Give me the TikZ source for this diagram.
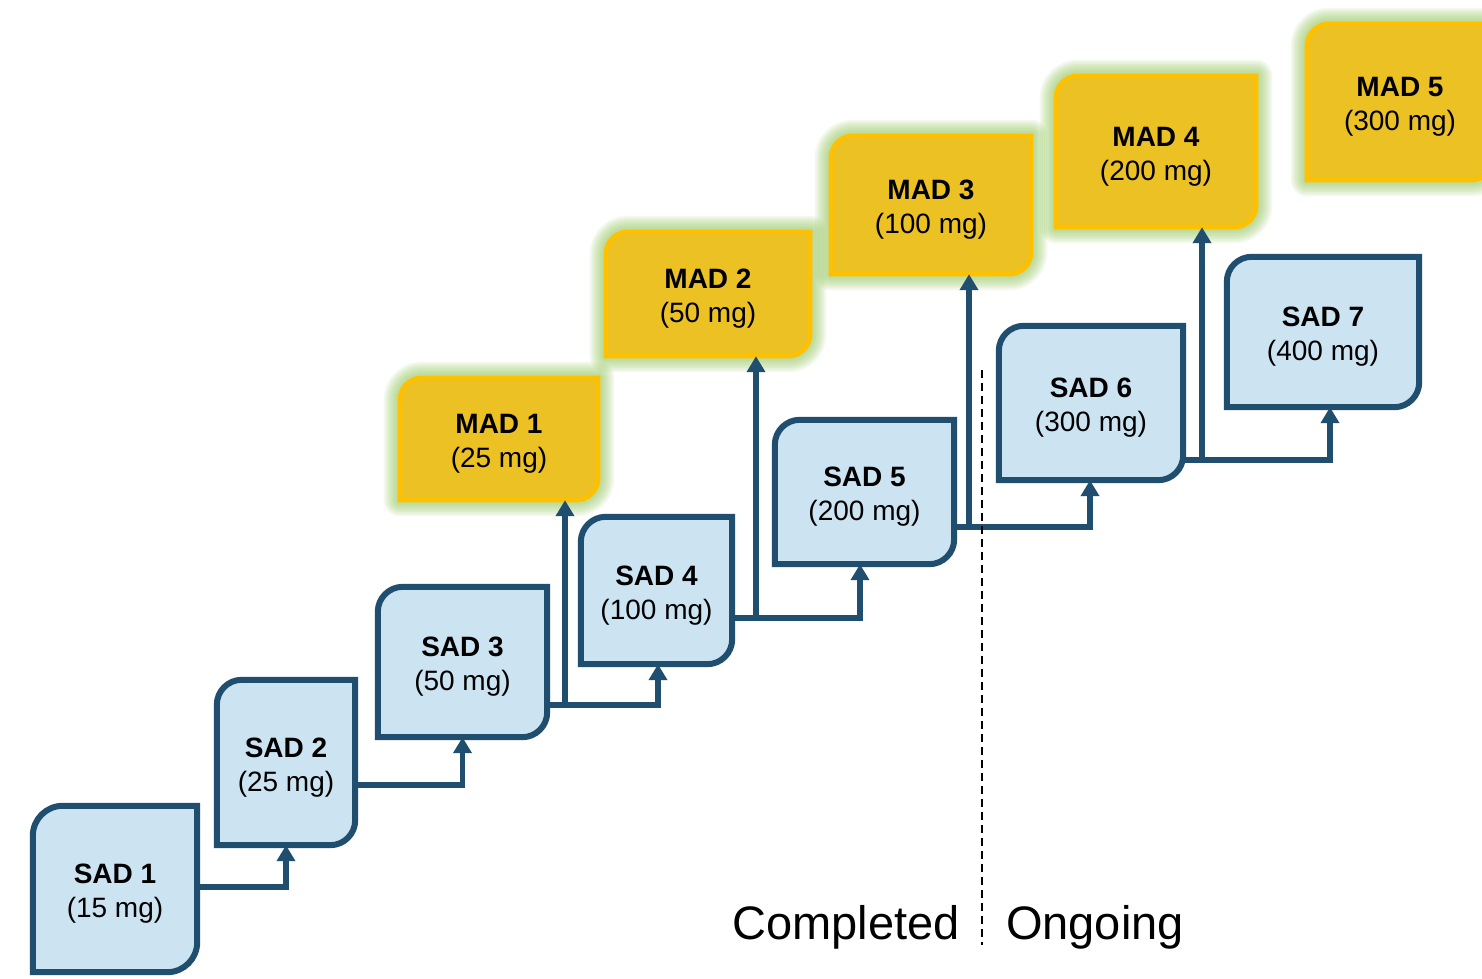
\documentclass[tikz,border=0pt]{standalone}
\usepackage{fontspec}
\setmainfont{Liberation Sans}
\usetikzlibrary{calc,arrows.meta}
\definecolor{sadfill}{RGB}{204,227,242}
\definecolor{sadline}{RGB}{31,78,111}
\definecolor{madfill}{RGB}{235,193,35}
\definecolor{madline}{RGB}{255,192,0}
\definecolor{glowc}{RGB}{150,200,95}
\pgfdeclarelayer{bg}
\pgfdeclarelayer{glowlayer}
\pgfdeclarelayer{paper}
\pgfsetlayers{paper,glowlayer,bg,main}
% shape with rounded top-left and bottom-right corners
\newcommand\dualround[3]{%
  \path[#1] (#2.south west) -- ($(#2.north west)+(0,#3)$)
    .. controls +(0,-0.552*#3) and +(-0.552*#3,0) .. ($(#2.north west)+(#3,0)$)
    -- (#2.north east) -- ($(#2.south east)+(0,-#3)$)
    .. controls +(0,0.552*#3) and +(0.552*#3,0) .. ($(#2.south east)+(-#3,0)$)
    -- cycle;}
\newcommand\madglow[2]{%
  \begin{pgfonlayer}{glowlayer}
  \foreach \w in {32,28,24,20,16,12,8}{%
    \dualround{draw=glowc,line width=\w pt,opacity=0.12,line join=round}{#1}{#2}}
  \end{pgfonlayer}
  \begin{pgfonlayer}{bg}
  \dualround{fill=madfill,draw=madline,line width=4.5pt}{#1}{#2}
  \end{pgfonlayer}}
\newcommand\sadshape[2]{%
  \begin{pgfonlayer}{glowlayer}
  \dualround{fill=black,opacity=0.05,xshift=5pt,yshift=-4pt}{#1}{#2}
  \dualround{fill=black,opacity=0.06,xshift=3pt,yshift=-2pt}{#1}{#2}
  \end{pgfonlayer}
  \begin{pgfonlayer}{bg}
  \dualround{fill=sadfill,draw=sadline,line width=6pt}{#1}{#2}
  \end{pgfonlayer}}
\newcommand\st{\rule{0pt}{29pt}}
\begin{document}
\begin{tikzpicture}[x=1pt,y=-1pt,
  box/.style={inner sep=0pt,align=center,font=\fontsize{28}{34}\selectfont,text=black},
  conn/.style={draw=sadline,line width=5.5pt,-{Triangle[width=18pt,length=16pt]}},
  lbl/.style={font=\fontsize{47}{56}\selectfont,text=black}]
\useasboundingbox (0,0) rectangle (1482,979);
\begin{pgfonlayer}{paper}
\fill[white] (0,0) rectangle (1482,979);
\end{pgfonlayer}

% SAD nodes
\node[box,minimum width=164pt,minimum height=166pt] (s1) at (115,889) {\st\textbf{SAD 1}\\(15 mg)};
\node[box,minimum width=138pt,minimum height=165pt] (s2) at (286,762.5) {\st\textbf{SAD 2}\\(25 mg)};
\node[box,minimum width=169pt,minimum height=150pt] (s3) at (462.5,662) {\st\textbf{SAD 3}\\(50 mg)};
\node[box,minimum width=151pt,minimum height=147pt] (s4) at (656.5,590.5) {\st\textbf{SAD 4}\\(100 mg)};
\node[box,minimum width=179pt,minimum height=144pt] (s5) at (864.5,492) {\st\textbf{SAD 5}\\(200 mg)};
\node[box,minimum width=184pt,minimum height=154pt] (s6) at (1091,403) {\st\textbf{SAD 6}\\(300 mg)};
\node[box,minimum width=192pt,minimum height=150pt] (s7) at (1323,332) {\st\textbf{SAD 7}\\(400 mg)};

% MAD nodes
\node[box,minimum width=198pt,minimum height=122pt] (m1) at (499,439) {\st\textbf{MAD 1}\\(25 mg)};
\node[box,minimum width=204pt,minimum height=124pt] (m2) at (708,294) {\st\textbf{MAD 2}\\(50 mg)};
\node[box,minimum width=200pt,minimum height=138pt] (m3) at (931,205) {\st\textbf{MAD 3}\\(100 mg)};
\node[box,minimum width=200pt,minimum height=151pt] (m4) at (1156,151.5) {\st\textbf{MAD 4}\\(200 mg)};
\node[box,minimum width=186pt,minimum height=156pt] (m5) at (1400,102) {\st\textbf{MAD 5}\\(300 mg)};

% shapes
\sadshape{s1}{30}
\sadshape{s2}{25}
\sadshape{s3}{25}
\sadshape{s4}{25}
\sadshape{s5}{25}
\sadshape{s6}{25}
\sadshape{s7}{25}
\madglow{m1}{22}
\madglow{m2}{22}
\madglow{m3}{22}
\madglow{m4}{22}
\madglow{m5}{22}

% connectors SAD -> SAD
\draw[conn] ([yshift=2pt]s1.east) -| (s2.south);
\draw[conn] ([yshift=-22.5pt]s2.east) -| (s3.south);
\draw[conn] ([yshift=-43pt]s3.east) -| ([xshift=1.5pt]s4.south);
\draw[conn] ([yshift=-27.5pt]s4.east) -| ([xshift=-4.5pt]s5.south);
\draw[conn] ([yshift=-35pt]s5.east) -| ([xshift=-1pt]s6.south);
\draw[conn] ([yshift=-57pt]s6.east) -| ([xshift=7pt]s7.south);

% branches SAD -> MAD
\coordinate (b1) at (565,705);
\coordinate (b2) at (756,618);
\coordinate (b3) at (969,527);
\coordinate (b4) at (1202,460);
\draw[conn] ([yshift=-2.75pt]b1) -- (b1 |- m1.south);
\draw[conn] ([yshift=-2.75pt]b2) -- (b2 |- m2.south);
\draw[conn] ([yshift=-2.75pt]b3) -- (b3 |- m3.south);
\draw[conn] ([yshift=-2.75pt]b4) -- (b4 |- m4.south);

% divider
\coordinate (d1) at (982,370);
\coordinate (d2) at (982,945);
\draw[line width=1.8pt,dash pattern=on 8pt off 5pt] (d1) -- (d2);

\node[lbl] (done) at (846,927) {Completed};
\node[lbl] (ongo) at (1095,927) {Ongoing};
\end{tikzpicture}
\end{document}
